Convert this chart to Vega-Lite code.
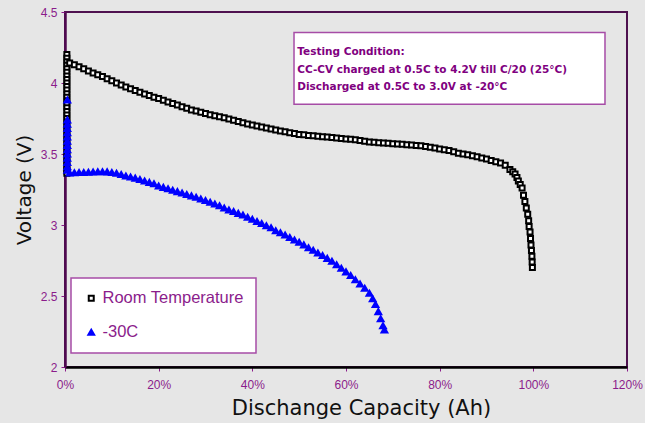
{
  "$schema": "https://vega.github.io/schema/vega-lite/v6.json",
  "width": 562,
  "height": 355,
  "autosize": {"type": "none"},
  "padding": {"left": 65, "top": 12, "right": 18, "bottom": 56},
  "background": "#e6e6e6",
  "config": {
    "view": {"stroke": "#4f1250", "strokeWidth": 2},
    "axis": {
      "grid": false,
      "labelFont": "Liberation Sans",
      "labelFontSize": 12,
      "labelColor": "#8b1c8b",
      "tickColor": "#8b1c8b",
      "tickSize": 4,
      "titleFont": "DejaVu Sans",
      "titleFontWeight": "normal",
      "titleColor": "#111111"
    },
    "legend": {
      "orient": "none",
      "legendX": 6,
      "legendY": 266,
      "title": null,
      "fillColor": "white",
      "strokeColor": "#a64ca6",
      "strokeWidth": 1.5,
      "padding": 12,
      "labelFont": "Liberation Sans",
      "labelFontSize": 16.5,
      "labelColor": "#8b1c8b",
      "labelOffset": 3,
      "rowPadding": 17,
      "symbolStrokeWidth": 2
    }
  },
  "datasets": {
    "pts": [
      {"s":"Room Temperature","c":0.4,"v":4.2},{"s":"Room Temperature","c":0.4,"v":4.175},{"s":"Room Temperature","c":0.4,"v":4.15},{"s":"Room Temperature","c":0.4,"v":4.125},{"s":"Room Temperature","c":0.4,"v":4.1},{"s":"Room Temperature","c":0.4,"v":4.075},{"s":"Room Temperature","c":0.4,"v":4.05},{"s":"Room Temperature","c":0.4,"v":4.025},{"s":"Room Temperature","c":0.4,"v":4.0},{"s":"Room Temperature","c":0.4,"v":3.975},{"s":"Room Temperature","c":0.4,"v":3.95},{"s":"Room Temperature","c":0.4,"v":3.925},{"s":"Room Temperature","c":0.4,"v":3.9},{"s":"Room Temperature","c":0.4,"v":3.875},{"s":"Room Temperature","c":0.4,"v":3.85},{"s":"Room Temperature","c":0.4,"v":3.825},{"s":"Room Temperature","c":0.4,"v":3.8},{"s":"Room Temperature","c":0.4,"v":3.775},{"s":"Room Temperature","c":0.4,"v":3.75},{"s":"Room Temperature","c":0.4,"v":3.725},{"s":"Room Temperature","c":0.4,"v":3.7},{"s":"Room Temperature","c":0.4,"v":3.675},{"s":"Room Temperature","c":0.4,"v":3.65},{"s":"Room Temperature","c":0.4,"v":3.625},{"s":"Room Temperature","c":0.4,"v":3.6},{"s":"Room Temperature","c":0.4,"v":3.575},{"s":"Room Temperature","c":0.4,"v":3.55},{"s":"Room Temperature","c":0.4,"v":3.525},{"s":"Room Temperature","c":0.4,"v":3.5},{"s":"Room Temperature","c":0.4,"v":3.475},{"s":"Room Temperature","c":0.4,"v":3.45},{"s":"Room Temperature","c":0.4,"v":3.425},{"s":"Room Temperature","c":0.4,"v":3.4},{"s":"Room Temperature","c":0.4,"v":3.38},{"s":"Room Temperature","c":0.4,"v":3.365},
      {"s":"Room Temperature","c":1,"v":4.14},{"s":"Room Temperature","c":2,"v":4.128},{"s":"Room Temperature","c":3,"v":4.115},{"s":"Room Temperature","c":4,"v":4.1},{"s":"Room Temperature","c":5,"v":4.085},{"s":"Room Temperature","c":6,"v":4.07},{"s":"Room Temperature","c":7,"v":4.058},{"s":"Room Temperature","c":8,"v":4.045},{"s":"Room Temperature","c":9,"v":4.03},{"s":"Room Temperature","c":10,"v":4.015},
      {"s":"Room Temperature","c":11,"v":4.0},{"s":"Room Temperature","c":12,"v":3.986},{"s":"Room Temperature","c":13,"v":3.972},{"s":"Room Temperature","c":14,"v":3.96},{"s":"Room Temperature","c":15,"v":3.948},{"s":"Room Temperature","c":16,"v":3.935},{"s":"Room Temperature","c":17,"v":3.923},{"s":"Room Temperature","c":18,"v":3.912},{"s":"Room Temperature","c":19,"v":3.9},{"s":"Room Temperature","c":20,"v":3.89},
      {"s":"Room Temperature","c":21,"v":3.878},{"s":"Room Temperature","c":22,"v":3.867},{"s":"Room Temperature","c":23,"v":3.856},{"s":"Room Temperature","c":24,"v":3.845},{"s":"Room Temperature","c":25,"v":3.833},{"s":"Room Temperature","c":26,"v":3.822},{"s":"Room Temperature","c":27,"v":3.81},{"s":"Room Temperature","c":28,"v":3.802},{"s":"Room Temperature","c":29,"v":3.794},{"s":"Room Temperature","c":30,"v":3.785},
      {"s":"Room Temperature","c":31,"v":3.777},{"s":"Room Temperature","c":32,"v":3.769},{"s":"Room Temperature","c":33,"v":3.762},{"s":"Room Temperature","c":34,"v":3.755},{"s":"Room Temperature","c":35,"v":3.746},{"s":"Room Temperature","c":36,"v":3.737},{"s":"Room Temperature","c":37,"v":3.728},{"s":"Room Temperature","c":38,"v":3.72},{"s":"Room Temperature","c":39,"v":3.712},{"s":"Room Temperature","c":40,"v":3.705},
      {"s":"Room Temperature","c":41,"v":3.698},{"s":"Room Temperature","c":42,"v":3.69},{"s":"Room Temperature","c":43,"v":3.683},{"s":"Room Temperature","c":44,"v":3.676},{"s":"Room Temperature","c":45,"v":3.669},{"s":"Room Temperature","c":46,"v":3.662},{"s":"Room Temperature","c":47,"v":3.656},{"s":"Room Temperature","c":48,"v":3.65},{"s":"Room Temperature","c":49,"v":3.644},{"s":"Room Temperature","c":50,"v":3.638},
      {"s":"Room Temperature","c":51,"v":3.635},{"s":"Room Temperature","c":52,"v":3.631},{"s":"Room Temperature","c":53,"v":3.628},{"s":"Room Temperature","c":54,"v":3.625},{"s":"Room Temperature","c":55,"v":3.622},{"s":"Room Temperature","c":56,"v":3.619},{"s":"Room Temperature","c":57,"v":3.616},{"s":"Room Temperature","c":58,"v":3.613},{"s":"Room Temperature","c":59,"v":3.61},{"s":"Room Temperature","c":60,"v":3.606},
      {"s":"Room Temperature","c":61,"v":3.603},{"s":"Room Temperature","c":62,"v":3.6},{"s":"Room Temperature","c":63,"v":3.595},{"s":"Room Temperature","c":64,"v":3.59},{"s":"Room Temperature","c":65,"v":3.585},{"s":"Room Temperature","c":66,"v":3.582},{"s":"Room Temperature","c":67,"v":3.58},{"s":"Room Temperature","c":68,"v":3.578},{"s":"Room Temperature","c":69,"v":3.575},{"s":"Room Temperature","c":70,"v":3.573},
      {"s":"Room Temperature","c":71,"v":3.57},{"s":"Room Temperature","c":72,"v":3.568},{"s":"Room Temperature","c":73,"v":3.566},{"s":"Room Temperature","c":74,"v":3.563},{"s":"Room Temperature","c":75,"v":3.56},{"s":"Room Temperature","c":76,"v":3.558},{"s":"Room Temperature","c":77,"v":3.553},{"s":"Room Temperature","c":78,"v":3.548},{"s":"Room Temperature","c":79,"v":3.542},{"s":"Room Temperature","c":80,"v":3.536},
      {"s":"Room Temperature","c":81,"v":3.53},{"s":"Room Temperature","c":82,"v":3.525},{"s":"Room Temperature","c":83,"v":3.515},{"s":"Room Temperature","c":84,"v":3.505},{"s":"Room Temperature","c":85,"v":3.5},{"s":"Room Temperature","c":86,"v":3.495},{"s":"Room Temperature","c":87,"v":3.488},{"s":"Room Temperature","c":88,"v":3.48},{"s":"Room Temperature","c":89,"v":3.472},{"s":"Room Temperature","c":90,"v":3.465},
      {"s":"Room Temperature","c":91,"v":3.455},{"s":"Room Temperature","c":92,"v":3.445},{"s":"Room Temperature","c":93,"v":3.437},{"s":"Room Temperature","c":94,"v":3.42},{"s":"Room Temperature","c":95,"v":3.39},{"s":"Room Temperature","c":95.6,"v":3.375},{"s":"Room Temperature","c":96.1,"v":3.36},{"s":"Room Temperature","c":96.5,"v":3.335},{"s":"Room Temperature","c":96.8,"v":3.31},{"s":"Room Temperature","c":97.2,"v":3.285},
      {"s":"Room Temperature","c":97.6,"v":3.26},{"s":"Room Temperature","c":97.9,"v":3.21},{"s":"Room Temperature","c":98.2,"v":3.165},{"s":"Room Temperature","c":98.5,"v":3.12},{"s":"Room Temperature","c":98.8,"v":3.075},{"s":"Room Temperature","c":99.0,"v":3.03},{"s":"Room Temperature","c":99.1,"v":2.99},{"s":"Room Temperature","c":99.3,"v":2.95},{"s":"Room Temperature","c":99.4,"v":2.905},{"s":"Room Temperature","c":99.5,"v":2.86},
      {"s":"Room Temperature","c":99.6,"v":2.82},{"s":"Room Temperature","c":99.7,"v":2.78},{"s":"Room Temperature","c":99.75,"v":2.74},{"s":"Room Temperature","c":99.8,"v":2.7},
      {"s":"-30C","c":0.5,"v":3.88},{"s":"-30C","c":0.5,"v":3.74},{"s":"-30C","c":0.5,"v":3.71},{"s":"-30C","c":0.5,"v":3.68},{"s":"-30C","c":0.5,"v":3.65},{"s":"-30C","c":0.5,"v":3.62},{"s":"-30C","c":0.5,"v":3.59},{"s":"-30C","c":0.5,"v":3.56},{"s":"-30C","c":0.5,"v":3.53},{"s":"-30C","c":0.5,"v":3.5},{"s":"-30C","c":0.5,"v":3.47},{"s":"-30C","c":0.5,"v":3.44},{"s":"-30C","c":0.5,"v":3.41},{"s":"-30C","c":0.5,"v":3.385},
      {"s":"-30C","c":1,"v":3.366},{"s":"-30C","c":2,"v":3.368},{"s":"-30C","c":3,"v":3.37},{"s":"-30C","c":4,"v":3.37},{"s":"-30C","c":5,"v":3.372},{"s":"-30C","c":6,"v":3.373},{"s":"-30C","c":7,"v":3.375},{"s":"-30C","c":8,"v":3.375},{"s":"-30C","c":9,"v":3.374},{"s":"-30C","c":10,"v":3.37},
      {"s":"-30C","c":11,"v":3.365},{"s":"-30C","c":12,"v":3.355},{"s":"-30C","c":13,"v":3.345},{"s":"-30C","c":14,"v":3.338},{"s":"-30C","c":15,"v":3.33},{"s":"-30C","c":16,"v":3.32},{"s":"-30C","c":17,"v":3.31},{"s":"-30C","c":18,"v":3.3},{"s":"-30C","c":19,"v":3.29},{"s":"-30C","c":20,"v":3.275},
      {"s":"-30C","c":21,"v":3.265},{"s":"-30C","c":22,"v":3.255},{"s":"-30C","c":23,"v":3.245},{"s":"-30C","c":24,"v":3.235},{"s":"-30C","c":25,"v":3.225},{"s":"-30C","c":26,"v":3.215},{"s":"-30C","c":27,"v":3.205},{"s":"-30C","c":28,"v":3.195},{"s":"-30C","c":29,"v":3.183},{"s":"-30C","c":30,"v":3.172},
      {"s":"-30C","c":31,"v":3.16},{"s":"-30C","c":32,"v":3.148},{"s":"-30C","c":33,"v":3.135},{"s":"-30C","c":34,"v":3.12},{"s":"-30C","c":35,"v":3.106},{"s":"-30C","c":36,"v":3.095},{"s":"-30C","c":37,"v":3.082},{"s":"-30C","c":38,"v":3.07},{"s":"-30C","c":39,"v":3.055},{"s":"-30C","c":40,"v":3.04},
      {"s":"-30C","c":41,"v":3.025},{"s":"-30C","c":42,"v":3.01},{"s":"-30C","c":43,"v":2.995},{"s":"-30C","c":44,"v":2.98},{"s":"-30C","c":45,"v":2.96},{"s":"-30C","c":46,"v":2.945},{"s":"-30C","c":47,"v":2.93},{"s":"-30C","c":48,"v":2.912},{"s":"-30C","c":49,"v":2.895},{"s":"-30C","c":50,"v":2.878},
      {"s":"-30C","c":51,"v":2.86},{"s":"-30C","c":52,"v":2.84},{"s":"-30C","c":53,"v":2.822},{"s":"-30C","c":54,"v":2.803},{"s":"-30C","c":55,"v":2.785},{"s":"-30C","c":56,"v":2.765},{"s":"-30C","c":57,"v":2.745},{"s":"-30C","c":58,"v":2.72},{"s":"-30C","c":59,"v":2.695},{"s":"-30C","c":60,"v":2.67},
      {"s":"-30C","c":61,"v":2.645},{"s":"-30C","c":62,"v":2.615},{"s":"-30C","c":63,"v":2.585},{"s":"-30C","c":64,"v":2.555},{"s":"-30C","c":65,"v":2.52},{"s":"-30C","c":65.7,"v":2.48},{"s":"-30C","c":66.3,"v":2.44},{"s":"-30C","c":66.9,"v":2.39},{"s":"-30C","c":67.4,"v":2.34},{"s":"-30C","c":67.9,"v":2.29},{"s":"-30C","c":68.2,"v":2.26}
    ],
    "box": [{"x1": 48.9, "x2": 115.3, "y1": 4.355, "y2": 3.85}],
    "notes": [
      {"x": 49.6, "y": 4.22, "t": "Testing Condition:"},
      {"x": 49.6, "y": 4.092, "t": "CC-CV charged at 0.5C to 4.2V till C/20 (25°C)"},
      {"x": 49.6, "y": 3.974, "t": "Discharged at 0.5C to 3.0V at -20°C"}
    ]
  },
  "layer": [
    {
      "data": {"name": "box"},
      "mark": {"type": "rect", "fill": "white", "stroke": "#a64ca6", "strokeWidth": 1.5},
      "encoding": {
        "x": {"field": "x1", "type": "quantitative", "scale": {"domain": [0, 120]}},
        "x2": {"field": "x2"},
        "y": {"field": "y1", "type": "quantitative", "scale": {"domain": [2, 4.5]}},
        "y2": {"field": "y2"}
      }
    },
    {
      "data": {"name": "notes"},
      "mark": {"type": "text", "align": "left", "baseline": "middle", "font": "DejaVu Sans", "fontWeight": "bold", "fontSize": 10.5, "color": "#800080"},
      "encoding": {
        "x": {"field": "x", "type": "quantitative"},
        "y": {"field": "y", "type": "quantitative"},
        "text": {"field": "t"}
      }
    },
    {
      "data": {"name": "pts"},
      "mark": {"type": "point", "filled": false, "strokeWidth": 2, "opacity": 1},
      "encoding": {
        "x": {
          "field": "c", "type": "quantitative",
          "scale": {"domain": [0, 120], "nice": false},
          "axis": {
            "values": [0, 20, 40, 60, 80, 100, 120],
            "labelExpr": "datum.value + '%'",
            "labelFlush": false,
            "title": "Dischange Capacity (Ah)",
            "titleFontSize": 21,
            "titlePadding": 7,
            "titleX": 296,
            "labelPadding": 8,
            "domainColor": "#000000",
            "domainWidth": 2.5
          }
        },
        "y": {
          "field": "v", "type": "quantitative",
          "scale": {"domain": [2, 4.5], "nice": false, "zero": false},
          "axis": {
            "values": [2, 2.5, 3, 3.5, 4, 4.5],
            "format": "~g",
            "labelFlush": false,
            "title": "Voltage (V)",
            "titleFontSize": 20,
            "titlePadding": 6,
            "labelPadding": 4,
            "domainColor": "#4f0a50",
            "domainWidth": 2.5
          }
        },
        "size": {"field": "s", "type": "nominal", "scale": {"domain": ["Room Temperature", "-30C"], "range": [25, 34]}},
        "shape": {"field": "s", "type": "nominal", "scale": {"domain": ["Room Temperature", "-30C"], "range": ["square", "triangle-up"]}},
        "fill": {"field": "s", "type": "nominal", "scale": {"domain": ["Room Temperature", "-30C"], "range": ["white", "#0000ff"]}},
        "stroke": {"field": "s", "type": "nominal", "scale": {"domain": ["Room Temperature", "-30C"], "range": ["#000000", "#0000ff"]}}
      }
    }
  ]
}
